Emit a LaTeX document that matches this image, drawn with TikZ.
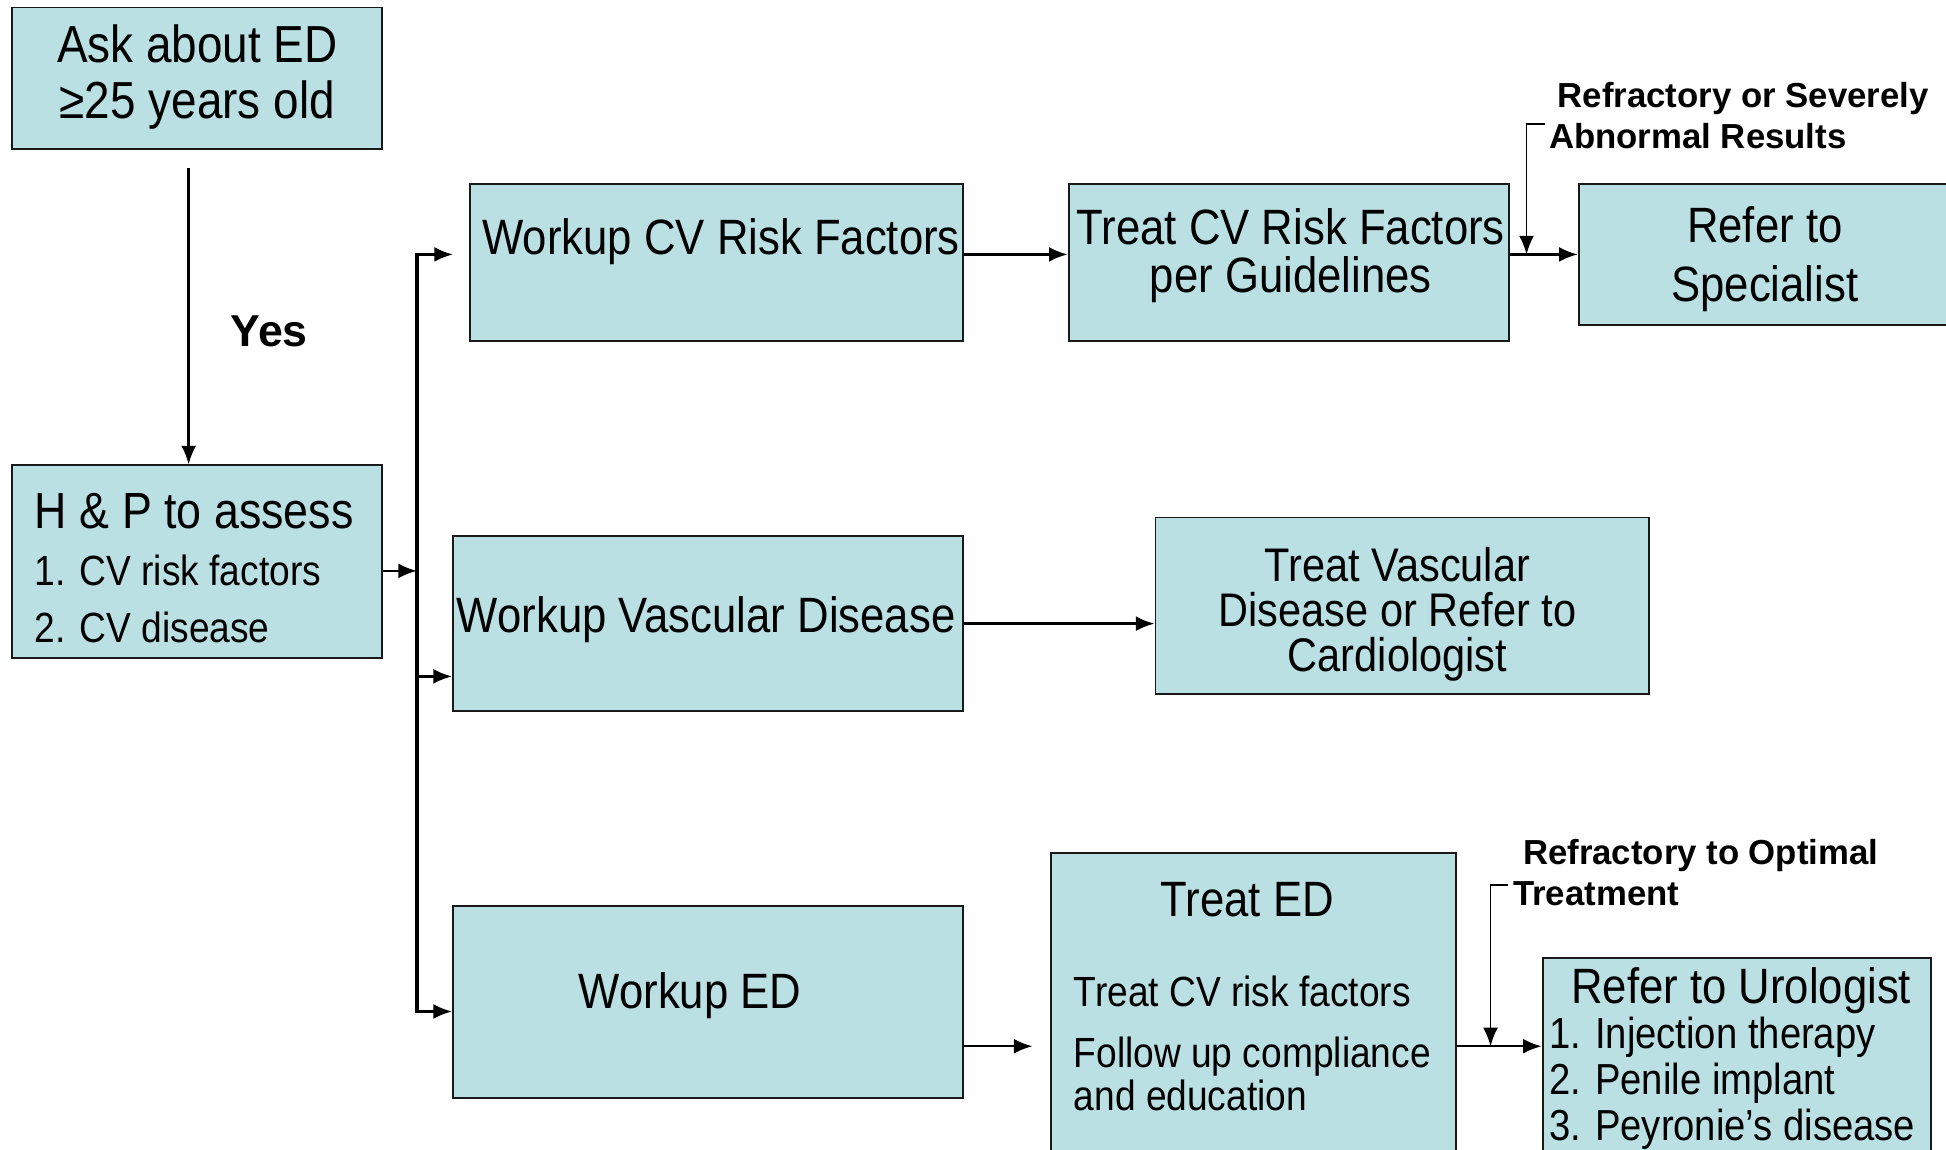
\documentclass[tikz,border=0pt]{standalone}
\usepackage{fontspec}
\setmainfont[FakeStretch=0.88]{Liberation Sans}
\newfontfamily\labfont{Liberation Sans}
\usetikzlibrary{arrows.meta}
\definecolor{boxfill}{RGB}{186,224,227}
\tikzstyle{box}=[draw=black!90, fill=boxfill, line width=1.5pt, inner sep=0pt]
\tikzstyle{txt}=[inner sep=0pt, align=center, font=\fontsize{40}{38}\selectfont]
\tikzstyle{lab}=[inner sep=0pt, align=left, font=\labfont\bfseries\fontsize{28}{33}\selectfont]
\tikzstyle{arr}=[line width=2pt, -{Latex[length=15pt,width=12pt]}]

\begin{document}
\begin{tikzpicture}[x=1pt, y=-1pt]
                                        \useasboundingbox (0,0) rectangle (1568,926);
                                        \fill[white] (0,0) rectangle (1568,926);

                                        % left column
                                        \node[box, minimum width=298, minimum height=114] (ask) at (159,63) {};
                                        \node[txt, font=\fontsize{42}{45}\selectfont] (askt) at (159,62) {Ask about ED\\≥25 years old};
                                        \node[box, minimum width=298, minimum height=155] (hp) at (159,452.5) {};
                                        \node[txt, anchor=west, align=left, font=\fontsize{34}{46}\selectfont] (hpt) at (28,458) {{\fontsize{41}{46}\selectfont H \& P to assess}\\1. CV risk factors\\2. CV disease};
                                        \node[font=\labfont\bfseries\fontsize{36}{40}\selectfont] (yes) at (217,267) {Yes};

                                        % middle column
                                        \node[box, minimum width=397, minimum height=127] (wcv) at (577.5,211.5) {};
                                        \node[txt] (wcvt) at (581,195) {Workup CV Risk Factors};
                                        \node[box, minimum width=411, minimum height=141] (wvd) at (570.5,502.5) {};
                                        \node[txt] (wvdt) at (569,499) {Workup Vascular Disease};
                                        \node[box, minimum width=411, minimum height=155] (wed) at (570.5,807.5) {};
                                        \node[txt] (wedt) at (556,802) {Workup ED};

                                        % right columns
                                        \node[box, minimum width=355, minimum height=127] (tcv) at (1038.5,211.5) {};
                                        \node[txt] (tcvt) at (1040,206) {Treat CV Risk Factors\\per Guidelines};
                                        \node[box, minimum width=300, minimum height=114] (rsp) at (1422,205) {};
                                        \node[txt, font=\fontsize{40}{48}\selectfont] (rspt) at (1422,209) {Refer to\\Specialist};
                                        \node[box, minimum width=398, minimum height=142] (tvd) at (1130,488) {};
                                        \node[txt, font=\fontsize{38}{36}\selectfont] (tvdt) at (1126,495) {Treat Vascular\\Disease or Refer to\\Cardiologist};
                                        \node[box, minimum width=326, minimum height=258] (ted) at (1010,816) {};
                                        \node[txt] (tedt) at (1005,725) {Treat ED};
                                        \node[txt, anchor=west, align=left, font=\fontsize{34}{35}\selectfont] (tedb) at (865,841) {Treat CV risk factors\\[14pt]Follow up compliance\\and education};
                                        \node[box, minimum width=313, minimum height=173] (ruro) at (1399.5,858.5) {};
                                        \node[txt] (rurot) at (1403,798) {Refer to Urologist};
                                        \node[txt, anchor=west, align=left, font=\fontsize{35}{37}\selectfont] (rurob) at (1248,873) {1. Injection therapy\\2. Penile implant\\3. Peyronie’s disease};

                                        \node[lab, anchor=west] (refsev) at (1248,93) {\hspace*{7pt}Refractory or Severely\\Abnormal Results};
                                        \node[lab, anchor=west] (refopt) at (1219,703) {\hspace*{8pt}Refractory to Optimal\\Treatment};

                                        % points on the lines
                                        \coordinate (down) at (152,135);
                                        \coordinate (bt) at (336,205);
                                        \coordinate (hpin) at (336,460);
                                        \coordinate (bm) at (336,545);
                                        \coordinate (bb) at (336,815);
                                        \coordinate (wcvin) at (365,205);
                                        \coordinate (tedin) at (832,843);
                                        \coordinate (r1) at (1245,100);
                                        \coordinate (r1e) at (1230,205);
                                        \coordinate (r2) at (1215,713);
                                        \coordinate (r2e) at (1201,843);

                                        \draw[arr] (down) -- (down |- hp.north);
                                        \draw[arr] (hp.east |- hpin) -- (hpin);
                                        \draw[line width=3pt, line cap=rect] (bt) -- (bb);
                                        \draw[arr] (bt) -- (wcvin);
                                        \draw[arr] (bm) -- (wvd.west |- bm);
                                        \draw[arr] (bb) -- (wed.west |- bb);

                                        \draw[arr] (wcv.east |- bt) -- (tcv.west |- bt);
                                        \draw[arr] (tcv.east |- bt) -- (rsp.west |- bt);
                                        \draw[arr] (wvd.east) -- (tvd.west |- wvd.east);
                                        \draw[arr] (wed.east |- tedin) -- (tedin);
                                        \draw[arr] (ted.east |- tedin) -- (ruro.west |- tedin);

                                        \draw[arr, line width=1.5pt] (r1) -| (r1e);
                                        \draw[arr, line width=1.5pt] (r2) -| (r2e);
                                    \end{tikzpicture}
\end{document}
